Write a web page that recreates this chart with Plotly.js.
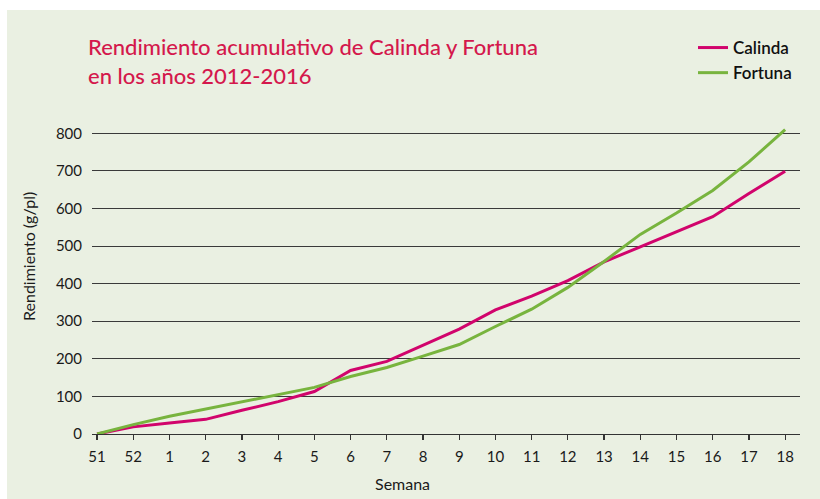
<!DOCTYPE html>
<html>
<head>
<meta charset="utf-8">
<script src="https://cdn.plot.ly/plotly-3.0.1.min.js"></script>
<style>
  html, body { margin: 0; padding: 0; background: #ffffff; width: 820px; height: 499px; overflow: hidden; }
  #chart { position: absolute; left: 7px; top: 10px; width: 813px; height: 489px; }
</style>
</head>
<body>
<div id="chart"></div>
<script>
const semanas = ["51", "52", "1", "2", "3", "4", "5", "6", "7", "8", "9", "10", "11", "12", "13", "14", "15", "16", "17", "18"];
const calinda = [0, 19, 29, 39, 63, 86, 113, 169, 193, 237, 279, 330, 367, 408, 458, 498, 537, 578, 640, 699];
const fortuna = [0, 25, 47, 66, 85, 105, 124, 153, 177, 207, 238, 286, 332, 390, 459, 531, 588, 648, 724, 810];
const yTicks = [0, 100, 200, 300, 400, 500, 600, 700, 800];

const positions = semanas.map((s, i) => i);

const traces = [
  {
    x: positions, y: calinda, name: "Calinda", type: "scatter", mode: "lines",
    line: { color: "#D1046C", width: 3 }
  },
  {
    x: positions, y: fortuna, name: "Fortuna", type: "scatter", mode: "lines",
    line: { color: "#78B43E", width: 3 }
  }
];

const layout = {
  width: 813, height: 489,
  paper_bgcolor: "#EAF0E2",
  plot_bgcolor: "#EAF0E2",
  margin: { l: 85, r: 20, t: 109, b: 65, autoexpand: false },
  font: { family: "Lato, 'Open Sans', sans-serif", color: "#1a1a1a", size: 14 },
  title: {
    text: "Rendimiento acumulativo de Calinda y Fortuna<br>en los años 2012-2016",
    x: 81 / 813, xanchor: "left", xref: "container",
    y: 1 - 45 / 489, yanchor: "top", yref: "container",
    font: { family: "Lato, sans-serif", size: 22, color: "#D4184C", weight: 500 }
  },
  showlegend: true,
  legend: {
    xref: "container", yref: "container",
    x: 686 / 813, xanchor: "left",
    y: 1 - 20 / 489, yanchor: "top",
    bgcolor: "rgba(0,0,0,0)",
    font: { family: "Lato, sans-serif", size: 17, color: "#111", weight: 600 },
    traceorder: "normal",
    itemwidth: 30
  },
  xaxis: {
    range: [-0.14, 19.41],
    tickvals: positions,
    ticktext: semanas,
    ticks: "outside", ticklen: 5, tickwidth: 1.2, tickcolor: "#333",
    showgrid: false, zeroline: false,
    showline: true, linecolor: "#333", linewidth: 1.2,
    tickfont: { size: 15, color: "#1a1a1a" },
    ticklabelstandoff: 4,
    fixedrange: true
  },
  yaxis: {
    range: [0, 838],
    tickvals: yTicks,
    ticks: "", showline: false, zeroline: false,
    showgrid: true, gridcolor: "#3a3a3a", gridwidth: 1.1,
    tickfont: { size: 15, color: "#1a1a1a" },
    ticklabelstandoff: 9,
    fixedrange: true
  },
  annotations: [
    {
      text: "Semana", xref: "paper", yref: "paper",
      x: (402 - 92) / 708, y: -(484 - 434) / 315,
      xanchor: "center", yanchor: "middle", showarrow: false,
      font: { size: 16, color: "#1a1a1a" }
    },
    {
      text: "Rendimiento (g/pl)", xref: "paper", yref: "paper",
      x: -(92 - 28) / 708, y: (434 - 257) / 315,
      xanchor: "center", yanchor: "middle", showarrow: false, textangle: -90,
      font: { size: 16, color: "#1a1a1a" }
    }
  ]
};

Plotly.newPlot("chart", traces, layout, { displayModeBar: false, staticPlot: true });
</script>
</body>
</html>
